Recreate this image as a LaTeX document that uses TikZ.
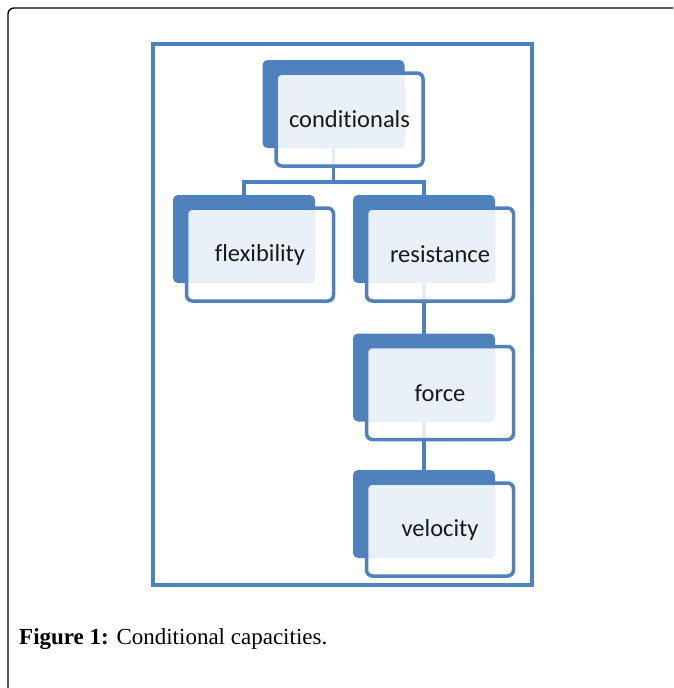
\documentclass[tikz,border=0pt]{standalone}
\usepackage{fontspec}
\setmainfont{Liberation Serif}
\newfontfamily\boxfont[Ligatures={NoCommon}]{Carlito}
\usetikzlibrary{backgrounds}

\definecolor{boxblue}{RGB}{79,129,189}
\definecolor{boxlight}{RGB}{234,240,248}
\definecolor{boxtext}{RGB}{25,25,25}

\tikzset{
  backbox/.style={fill=boxblue, rounded corners=5pt, minimum width=142pt, minimum height=88pt, inner sep=0pt},
  frontbox/.style={draw=boxblue, line width=3.5pt, fill=white, fill opacity=0.85, text opacity=1,
    rounded corners=6pt, minimum width=147pt, minimum height=93pt, inner sep=0pt,
    text=boxtext, font=\boxfont\fontsize{24.5}{27}\selectfont,
    path picture={\fill[boxlight, fill opacity=1]
      ([xshift=3pt,yshift=-3pt]path picture bounding box.north west) rectangle
      ([xshift=-19pt,yshift=18.5pt]path picture bounding box.south east);}},
  link/.style={draw=boxblue, line width=3.5pt}
}

\begin{document}
\begin{tikzpicture}[x=1pt, y=-1pt]
  \useasboundingbox (0,0) rectangle (673,688);
  % page frame
  \draw[line width=1.4pt, rounded corners=6pt] (8,688) -- (8,8) -- (673,8);
  % blue frame
  \draw[boxblue, line width=4pt] (153,43.5) rectangle (532,585);
  % boxes
  \foreach \name/\x/\y/\txt in {cond/333.5/104/conditionals, flex/244/239/flexibility,
      resist/424/239/resistance, force/424/377.5/force, vel/424/514/velocity}
  {
    \node[backbox] (\name back) at (\x,\y) {};
    \node[frontbox] (\name) at (\x+16,\y+15.5) {\txt};
  }
  % connectors
  \begin{scope}[on background layer]
    \draw[link] (condback.center) -- ++(0,78) coordinate (split);
    \draw[link] (flexback.center) |- (split) -| (resistback.center);
    \draw[link] (resistback.center) -- (forceback.center);
    \draw[link] (forceback.center) -- (velback.center);
  \end{scope}
  % caption
  \node[anchor=base west, inner sep=0pt, font=\fontsize{23}{27}\selectfont] (caption) at (19,644)
    {\textbf{Figure 1:} Conditional capacities.};
\end{tikzpicture}
\end{document}
